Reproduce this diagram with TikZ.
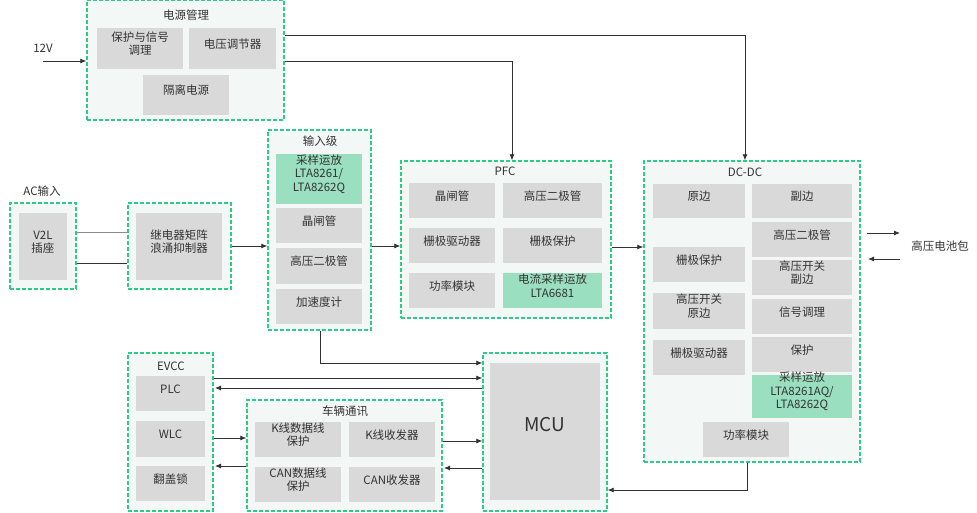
\documentclass[tikz,border=0pt]{standalone}
\usepackage{fontspec}
\setmainfont{Noto Sans CJK SC}
\usetikzlibrary{arrows.meta}
\usetikzlibrary{fit}
\usetikzlibrary{positioning}
\definecolor{mdash}{HTML}{2BCC8A}
\definecolor{mpale}{HTML}{F3F7F5}
\definecolor{mgray}{HTML}{D9D9D9}
\definecolor{mgreen}{HTML}{9ADFBF}
\definecolor{mtext}{HTML}{333333}
\tikzset{grp/.style = {draw=mdash, fill=mpale, dashed, line width=1.4pt, dash pattern=on 4pt off 2pt, inner sep=0}}
\tikzset{cell/.style = {fill=mgray, inner sep=0, text=mtext, align=center, font=\fontsize{11.5}{13.5}\selectfont}}
\tikzset{gcell/.style = {cell, fill=mgreen}}
\tikzset{ttl/.style = {text=mtext, font=\fontsize{11.5}{13.5}\selectfont}}
\tikzset{conn/.style = {-{Latex[length=6pt,width=5pt]}, line width=0.8pt, draw=black!80}}

\begin{document}
\begin{tikzpicture}[x=1pt, y=-1pt]
    \useasboundingbox (0, 0) rectangle (977, 512);

    % power management
    \node [grp, fit={(87, 0) (284, 120)}] (pwr) {};
    \node [ttl] at (186, 15) {电源管理};
    \node [cell, fit={(97, 28) (183, 69)}] (prot) {保护与信号\\调理};
    \node [cell, fit={(189, 28) (276, 69)}] (vreg) {电压调节器};
    \node [cell, fit={(143, 75) (229, 115)}] (iso) {隔离电源};
    \node [ttl] at (43, 48) {12V};
    \coordinate (vin) at (43, 61);

    % AC input
    \node [ttl] at (42, 191) {AC输入};
    \node [grp, fit={(10, 203) (76, 289)}] (v2lg) {};
    \node [cell, fit={(19, 213) (67, 280)}] (v2l) {V2L\\插座};
    \node [grp, fit={(128, 203) (231, 289)}] (relg) {};
    \node [cell, fit={(136, 213) (222, 280)}] (rel) {继电器矩阵\\浪涌抑制器};

    % input stage
    \node [grp, fit={(268, 130) (371, 330)}] (inp) {};
    \node [ttl] at (320, 141) {输入级};
    \node [gcell, fit={(276, 154) (362, 204)}] (inamp) {采样运放\\LTA8261/\\LTA8262Q};
    \node [cell, fit={(276, 208) (362, 243)}] (inthy) {晶闸管};
    \node [cell, fit={(276, 248) (362, 284)}] (indio) {高压二极管};
    \node [cell, fit={(276, 289) (362, 324)}] (inacc) {加速度计};

    % PFC
    \node [grp, fit={(401, 161) (611, 318)}] (pfc) {};
    \node [ttl] at (505, 171) {PFC};
    \node [cell, fit={(409, 183) (495, 218)}] {晶闸管};
    \node [cell, fit={(503, 183) (602, 218)}] {高压二极管};
    \node [cell, fit={(409, 228) (495, 263)}] {栅极驱动器};
    \node [cell, fit={(503, 228) (602, 263)}] {栅极保护};
    \node [cell, fit={(409, 273) (495, 308)}] {功率模块};
    \node [gcell, fit={(503, 273) (602, 308)}] {电流采样运放\\LTA6681};

    % DC-DC
    \node [grp, fit={(644, 161) (860, 462)}] (dcdc) {};
    \node [ttl] at (745, 172) {DC-DC};
    \node [cell, fit={(653, 184) (745, 218)}] {原边};
    \node [cell, fit={(653, 247) (745, 282)}] {栅极保护};
    \node [cell, fit={(653, 293) (745, 329)}] {高压开关\\原边};
    \node [cell, fit={(653, 340) (745, 375)}] {栅极驱动器};
    \node [cell, fit={(752, 184) (852, 218)}] {副边};
    \node [cell, fit={(752, 222) (852, 257)}] {高压二极管};
    \node [cell, fit={(752, 260) (852, 295)}] {高压开关\\副边};
    \node [cell, fit={(752, 299) (852, 334)}] {信号调理};
    \node [cell, fit={(752, 337) (852, 372)}] {保护};
    \node [gcell, fit={(752, 375) (852, 418)}] {采样运放\\LTA8261AQ/\\LTA8262Q};
    \node [cell, fit={(703, 422) (789, 457)}] (dcpm) {功率模块};
    \node [ttl] at (940, 246) {高压电池包};
    \coordinate (bato) at (900, 233);
    \coordinate (bati) at (900, 259);

    % MCU
    \node [grp, fit={(483, 353) (607, 511)}] (mcug) {};
    \node [cell, fit={(490, 363) (600, 500)}, font=\fontsize{19}{22}\selectfont] (mcu) {MCU};

    % EVCC
    \node [grp, fit={(128, 353) (213, 511)}] (evcc) {};
    \node [ttl] at (171, 366) {EVCC};
    \node [cell, fit={(136, 376) (205, 411)}] {PLC};
    \node [cell, fit={(136, 421) (205, 457)}] {WLC};
    \node [cell, fit={(136, 466) (205, 501)}] {翻盖锁};

    % vehicle communication
    \node [grp, fit={(247, 400) (442, 511)}] (veh) {};
    \node [ttl] at (345, 411) {车辆通讯};
    \node [cell, fit={(255, 422) (341, 457)}] {K线数据线\\保护};
    \node [cell, fit={(349, 422) (435, 457)}] {K线收发器};
    \node [cell, fit={(255, 467) (341, 502)}] {CAN数据线\\保护};
    \node [cell, fit={(349, 467) (435, 502)}] {CAN收发器};

    % connections
    \draw [conn] (vin) -- (vin -| pwr.west);
    \draw [conn] (pwr.east |- 0, 35) -| (dcdc.north -| 745, 0);
    \draw [conn] (pwr.east |- 0, 61) -| (pfc.north -| 512, 0);
    \draw [line width=0.6pt, black!45] (v2lg.east |- 0, 232) -- (relg.west |- 0, 232);
    \draw [line width=1pt, black!80] (v2lg.east |- 0, 263) -- (relg.west |- 0, 263);
    \draw [conn] (relg.east |- 0, 246) -- (inp.west |- 0, 246);
    \draw [conn] (inp.east |- 0, 246) -- (pfc.west |- 0, 246);
    \draw [conn] (pfc.east |- 0, 247) -- (dcdc.west |- 0, 247);
    \draw [conn] (867, 233) -- (bato);
    \draw [conn] (bati) -- (868, 259);
    \draw [conn] (dcdc.south -| 747, 0) |- (mcug.east |- 0, 490);
    \draw [conn] (inp.south -| 320, 0) |- (mcug.west |- 0, 363);
    \draw [conn] (evcc.east |- 0, 378) -- (mcug.west |- 0, 378);
    \draw [conn] (mcug.west |- 0, 388) -- (215, 388);
    \draw [conn] (evcc.east |- 0, 438) -- (veh.west |- 0, 438);
    \draw [conn] (veh.west |- 0, 466) -- (215, 466);
    \draw [conn] (veh.east |- 0, 441) -- (mcug.west |- 0, 441);
    \draw [conn] (mcug.west |- 0, 468) -- (444, 468);

  \end{tikzpicture}
\end{document}
